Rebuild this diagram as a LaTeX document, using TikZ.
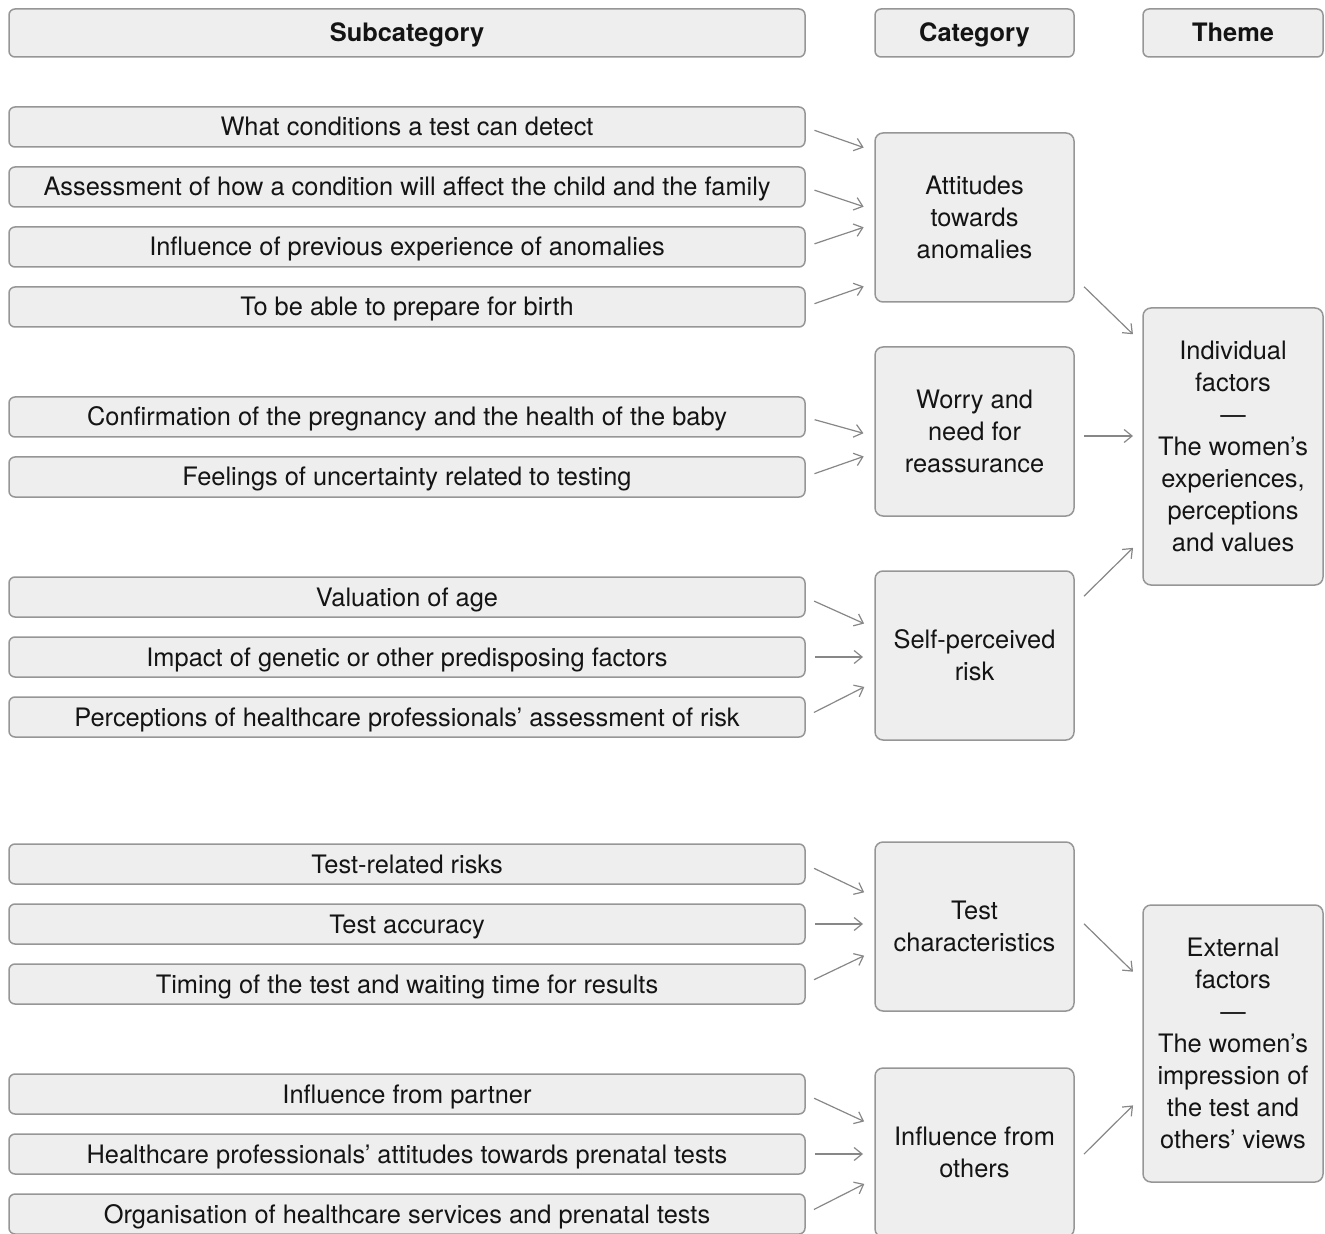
\documentclass[tikz,border=0pt]{standalone}
\usepackage{fontspec}
\setmainfont{TeX Gyre Heros}
\usetikzlibrary{positioning}
\usetikzlibrary{arrows.meta}
\definecolor{figCaja}{RGB}{238,238,238}
\definecolor{figCajaBorde}{RGB}{150,150,150}
\definecolor{figFlecha}{RGB}{135,135,135}
\definecolor{figTexto}{RGB}{20,20,20}
\tikzset{
  caja/.style={
    rectangle, rounded corners=3pt, draw=figCajaBorde, line width=0.75pt,
    fill=figCaja, align=center, text=figTexto, inner sep=2pt, outer sep=0pt,
    font=\fontsize{12.7}{16}\selectfont
  },
  cabecera/.style={caja, minimum height=24pt, text height=9pt, text depth=0pt,
    font=\fontsize{12.7}{16}\selectfont\bfseries},
  subcat/.style={caja, minimum width=398pt, minimum height=20pt, text height=9pt, text depth=0pt},
  categ/.style={caja, rounded corners=4pt, minimum width=99.5pt, minimum height=84.5pt},
  tema/.style={caja, rounded corners=4pt, minimum width=90pt, minimum height=138.5pt},
  flecha/.style={-{Straight Barb[length=4pt,width=6.5pt]}, line width=0.6pt, draw=figFlecha,
    shorten <=5pt, shorten >=6pt},
  flechat/.style={flecha, shorten <=7pt, shorten >=7pt}
}

\begin{document}
\begin{tikzpicture}[node distance=10pt and 35pt]
  \useasboundingbox (0,0) rectangle (662.5pt,-617pt);
  \node[cabecera, minimum width=398pt] (hsub) at (203.5pt,-16.5pt) {Subcategory};
  \node[cabecera, minimum width=99.5pt] (hcat) at (487.25pt,-16.5pt) {Category};
  \node[cabecera, minimum width=90pt] (htema) at (616.5pt,-16.5pt) {Theme};

  % subcategorias
  \node[subcat, below=25pt of hsub] (s1) {What conditions a test can detect};
  \node[subcat, below=of s1] (s2) {Assessment of how a condition will affect the child and the family};
  \node[subcat, below=of s2] (s3) {Influence of previous experience of anomalies};
  \node[subcat, below=of s3] (s4) {To be able to prepare for birth};
  \node[subcat, below=35pt of s4] (s5) {Confirmation of the pregnancy and the health of the baby};
  \node[subcat, below=of s5] (s6) {Feelings of uncertainty related to testing};
  \node[subcat, below=40pt of s6] (s7) {Valuation of age};
  \node[subcat, below=of s7] (s8) {Impact of genetic or other predisposing factors};
  \node[subcat, below=of s8] (s9) {Perceptions of healthcare professionals’ assessment of risk};
  \node[subcat, below=53.5pt of s9] (s10) {Test-related risks};
  \node[subcat, below=of s10] (s11) {Test accuracy};
  \node[subcat, below=of s11] (s12) {Timing of the test and waiting time for results};
  \node[subcat, below=35pt of s12] (s13) {Influence from partner};
  \node[subcat, below=of s13] (s14) {Healthcare professionals’ attitudes towards prenatal tests};
  \node[subcat, below=of s14] (s15) {Organisation of healthcare services and prenatal tests};

  % categorias
  \node[categ, below=38pt of hcat] (actitudes) {Attitudes\\towards\\anomalies};
  \node[categ, below=22.5pt of actitudes] (worry) {Worry and\\need for\\reassurance};
  \node[categ, below=27.5pt of worry] (riesgo) {Self-perceived\\risk};
  \node[categ, below=51pt of riesgo] (testcar) {Test\\characteristics};
  \node[categ, below=28.5pt of testcar] (otros) {Influence from\\others};

  % temas
  \node[tema, below=125.5pt of htema] (individual) {Individual\\factors\\—\\The women’s\\experiences,\\perceptions\\and values};
  \node[tema, below=160pt of individual] (externos) {External\\factors\\—\\The women’s\\impression of\\the test and\\others’ views};

  \draw[flecha] (s1.east) -- ([yshift=33pt]actitudes.west);
  \draw[flecha] (s2.east) -- ([yshift=3.5pt]actitudes.west);
  \draw[flecha] (s3.east) -- ([yshift=-3pt]actitudes.west);
  \draw[flecha] (s4.east) -- ([yshift=-32.5pt]actitudes.west);
  \draw[flecha] (s5.east) -- ([yshift=-2.5pt]worry.west);
  \draw[flecha] (s6.east) -- ([yshift=-10.5pt]worry.west);
  \draw[flecha] (s7.east) -- ([yshift=13.5pt]riesgo.west);
  \draw[flecha] (s8.east) -- (s8.east -| riesgo.west);
  \draw[flecha] (s9.east) -- ([yshift=-13pt]riesgo.west);
  \draw[flecha] (s10.east) -- ([yshift=14.5pt]testcar.west);
  \draw[flecha] (s11.east) -- (s11.east -| testcar.west);
  \draw[flecha] (s12.east) -- ([yshift=-12pt]testcar.west);
  \draw[flecha] (s13.east) -- ([yshift=13pt]otros.west);
  \draw[flecha] (s14.east) -- (s14.east -| otros.west);
  \draw[flecha] (s15.east) -- ([yshift=-13pt]otros.west);

  \draw[flechat] ([yshift=-29.75pt]actitudes.east) -- ([yshift=51.25pt]individual.west);
  \draw[flecha, shorten <=5pt, shorten >=5pt] ([yshift=-2.25pt]worry.east) -- ([yshift=5.25pt]individual.west);
  \draw[flechat] ([yshift=24.75pt]riesgo.east) -- ([yshift=-45.75pt]individual.west);
  \draw[flechat] ([yshift=6.25pt]testcar.east) -- ([yshift=31pt]externos.west);
  \draw[flechat] ([yshift=-5.75pt]otros.east) -- ([yshift=-26pt]externos.west);
\end{tikzpicture}
\end{document}
